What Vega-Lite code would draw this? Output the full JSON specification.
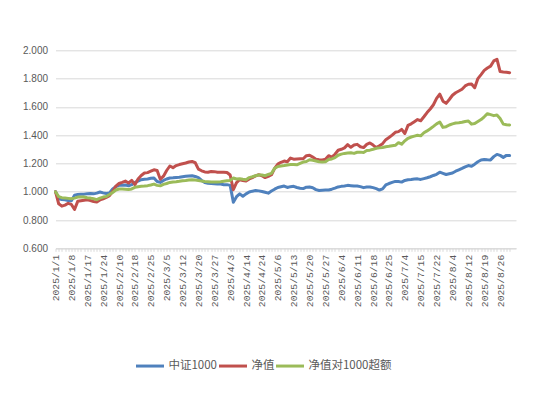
{
  "$schema": "https://vega.github.io/schema/vega-lite/v6.json",
  "width": 460.5,
  "height": 198,
  "autosize": {"type": "none"},
  "padding": {"left": 55.5, "top": 50.3, "right": 30, "bottom": 147},
  "background": "white",
  "config": {"view": {"stroke": null}},
  "data": {"values": [
    {"d":"2025/1/1","中证1000":1.000,"净值":1.000,"净值对1000超额":1.000},
    {"d":"2025/1/2","中证1000":0.950,"净值":0.915,"净值对1000超额":0.965},
    {"d":"2025/1/3","中证1000":0.945,"净值":0.898,"净值对1000超额":0.958},
    {"d":"2025/1/6","中证1000":0.943,"净值":0.905,"净值对1000超额":0.956},
    {"d":"2025/1/7","中证1000":0.938,"净值":0.918,"净值对1000超额":0.953},
    {"d":"2025/1/8","中证1000":0.936,"净值":0.910,"净值对1000超额":0.950},
    {"d":"2025/1/9","中证1000":0.975,"净值":0.875,"净值对1000超额":0.955},
    {"d":"2025/1/10","中证1000":0.980,"净值":0.932,"净值对1000超额":0.962},
    {"d":"2025/1/13","中证1000":0.982,"净值":0.936,"净值对1000超额":0.962},
    {"d":"2025/1/14","中证1000":0.983,"净值":0.940,"净值对1000超额":0.962},
    {"d":"2025/1/17","中证1000":0.986,"净值":0.943,"净值对1000超额":0.958},
    {"d":"2025/1/20","中证1000":0.988,"净值":0.938,"净值对1000超额":0.955},
    {"d":"2025/1/21","中证1000":0.985,"净值":0.931,"净值对1000超额":0.950},
    {"d":"2025/1/22","中证1000":0.990,"净值":0.927,"净值对1000超额":0.944},
    {"d":"2025/1/23","中证1000":0.998,"净值":0.942,"净值对1000超额":0.955},
    {"d":"2025/1/24","中证1000":0.992,"净值":0.950,"净值对1000超额":0.962},
    {"d":"2025/1/27","中证1000":0.988,"净值":0.960,"净值对1000超额":0.966},
    {"d":"2025/2/5","中证1000":0.992,"净值":0.972,"净值对1000超额":0.980},
    {"d":"2025/2/6","中证1000":1.020,"净值":1.002,"净值对1000超额":0.995},
    {"d":"2025/2/7","中证1000":1.036,"净值":1.040,"净值对1000超额":1.012},
    {"d":"2025/2/10","中证1000":1.045,"净值":1.058,"净值对1000超额":1.019},
    {"d":"2025/2/11","中证1000":1.046,"净值":1.066,"净值对1000超额":1.019},
    {"d":"2025/2/12","中证1000":1.048,"净值":1.075,"净值对1000超额":1.018},
    {"d":"2025/2/13","中证1000":1.042,"净值":1.062,"净值对1000超额":1.016},
    {"d":"2025/2/14","中证1000":1.050,"净值":1.080,"净值对1000超额":1.020},
    {"d":"2025/2/18","中证1000":1.066,"净值":1.050,"净值对1000超额":1.031},
    {"d":"2025/2/19","中证1000":1.075,"净值":1.090,"净值对1000超额":1.035},
    {"d":"2025/2/20","中证1000":1.085,"净值":1.115,"净值对1000超额":1.038},
    {"d":"2025/2/21","中证1000":1.088,"净值":1.132,"净值对1000超额":1.040},
    {"d":"2025/2/24","中证1000":1.090,"净值":1.135,"净值对1000超额":1.043},
    {"d":"2025/2/25","中证1000":1.095,"净值":1.145,"净值对1000超额":1.048},
    {"d":"2025/2/26","中证1000":1.097,"净值":1.155,"净值对1000超额":1.054},
    {"d":"2025/2/27","中证1000":1.072,"净值":1.150,"净值对1000超额":1.045},
    {"d":"2025/2/28","中证1000":1.066,"净值":1.088,"净值对1000超额":1.042},
    {"d":"2025/3/3","中证1000":1.080,"净值":1.110,"净值对1000超额":1.052},
    {"d":"2025/3/5","中证1000":1.090,"净值":1.150,"净值对1000超额":1.058},
    {"d":"2025/3/6","中证1000":1.097,"净值":1.182,"净值对1000超额":1.066},
    {"d":"2025/3/7","中证1000":1.098,"净值":1.170,"净值对1000超额":1.069},
    {"d":"2025/3/10","中证1000":1.100,"净值":1.185,"净值对1000超额":1.071},
    {"d":"2025/3/11","中证1000":1.102,"净值":1.192,"净值对1000超额":1.074},
    {"d":"2025/3/12","中证1000":1.106,"净值":1.198,"净值对1000超额":1.078},
    {"d":"2025/3/13","中证1000":1.109,"净值":1.203,"净值对1000超额":1.080},
    {"d":"2025/3/14","中证1000":1.111,"净值":1.210,"净值对1000超额":1.083},
    {"d":"2025/3/17","中证1000":1.113,"净值":1.214,"净值对1000超额":1.085},
    {"d":"2025/3/18","中证1000":1.108,"净值":1.205,"净值对1000超额":1.083},
    {"d":"2025/3/20","中证1000":1.100,"净值":1.160,"净值对1000超额":1.080},
    {"d":"2025/3/21","中证1000":1.080,"净值":1.148,"净值对1000超额":1.076},
    {"d":"2025/3/24","中证1000":1.065,"净值":1.140,"净值对1000超额":1.073},
    {"d":"2025/3/25","中证1000":1.060,"净值":1.138,"净值对1000超额":1.071},
    {"d":"2025/3/26","中证1000":1.058,"净值":1.143,"净值对1000超额":1.069},
    {"d":"2025/3/27","中证1000":1.057,"净值":1.142,"净值对1000超额":1.069},
    {"d":"2025/3/28","中证1000":1.055,"净值":1.138,"净值对1000超额":1.069},
    {"d":"2025/3/31","中证1000":1.054,"净值":1.137,"净值对1000超额":1.070},
    {"d":"2025/4/1","中证1000":1.050,"净值":1.137,"净值对1000超额":1.074},
    {"d":"2025/4/2","中证1000":1.050,"净值":1.136,"净值对1000超额":1.078},
    {"d":"2025/4/3","中证1000":1.045,"净值":1.118,"净值对1000超额":1.080},
    {"d":"2025/4/7","中证1000":0.926,"净值":1.014,"净值对1000超额":1.097},
    {"d":"2025/4/8","中证1000":0.965,"净值":1.065,"净值对1000超额":1.090},
    {"d":"2025/4/9","中证1000":0.985,"净值":1.085,"净值对1000超额":1.092},
    {"d":"2025/4/10","中证1000":0.968,"净值":1.080,"净值对1000超额":1.088},
    {"d":"2025/4/14","中证1000":0.985,"净值":1.075,"净值对1000超额":1.085},
    {"d":"2025/4/16","中证1000":0.998,"净值":1.090,"净值对1000超额":1.100},
    {"d":"2025/4/18","中证1000":1.004,"净值":1.100,"净值对1000超额":1.106},
    {"d":"2025/4/21","中证1000":1.008,"净值":1.112,"净值对1000超额":1.113},
    {"d":"2025/4/23","中证1000":1.006,"净值":1.120,"净值对1000超额":1.118},
    {"d":"2025/4/24","中证1000":1.002,"净值":1.113,"净值对1000超额":1.118},
    {"d":"2025/4/25","中证1000":0.996,"净值":1.100,"净值对1000超额":1.113},
    {"d":"2025/4/28","中证1000":0.990,"净值":1.108,"净值对1000超额":1.122},
    {"d":"2025/4/29","中证1000":1.005,"净值":1.120,"净值对1000超额":1.130},
    {"d":"2025/4/30","中证1000":1.018,"净值":1.165,"净值对1000超额":1.165},
    {"d":"2025/5/6","中证1000":1.030,"净值":1.195,"净值对1000超额":1.178},
    {"d":"2025/5/7","中证1000":1.035,"净值":1.208,"净值对1000超额":1.182},
    {"d":"2025/5/8","中证1000":1.040,"净值":1.217,"净值对1000超额":1.185},
    {"d":"2025/5/9","中证1000":1.030,"净值":1.212,"净值对1000超额":1.189},
    {"d":"2025/5/12","中证1000":1.036,"净值":1.238,"净值对1000超额":1.192},
    {"d":"2025/5/13","中证1000":1.038,"净值":1.230,"净值对1000超额":1.192},
    {"d":"2025/5/14","中证1000":1.030,"净值":1.232,"净值对1000超额":1.190},
    {"d":"2025/5/15","中证1000":1.025,"净值":1.233,"净值对1000超额":1.200},
    {"d":"2025/5/16","中证1000":1.022,"净值":1.233,"净值对1000超额":1.210},
    {"d":"2025/5/19","中证1000":1.032,"净值":1.255,"净值对1000超额":1.214},
    {"d":"2025/5/20","中证1000":1.033,"净值":1.258,"净值对1000超额":1.226},
    {"d":"2025/5/21","中证1000":1.028,"净值":1.245,"净值对1000超额":1.222},
    {"d":"2025/5/22","中证1000":1.015,"净值":1.230,"净值对1000超额":1.217},
    {"d":"2025/5/23","中证1000":1.009,"净值":1.226,"净值对1000超额":1.212},
    {"d":"2025/5/26","中证1000":1.011,"净值":1.225,"净值对1000超额":1.210},
    {"d":"2025/5/27","中证1000":1.012,"净值":1.229,"净值对1000超额":1.212},
    {"d":"2025/5/28","中证1000":1.012,"净值":1.255,"净值对1000超额":1.228},
    {"d":"2025/5/29","中证1000":1.018,"净值":1.245,"净值对1000超额":1.232},
    {"d":"2025/5/30","中证1000":1.025,"净值":1.265,"净值对1000超额":1.241},
    {"d":"2025/6/3","中证1000":1.034,"净值":1.293,"净值对1000超额":1.258},
    {"d":"2025/6/4","中证1000":1.038,"净值":1.300,"净值对1000超额":1.266},
    {"d":"2025/6/5","中证1000":1.041,"净值":1.310,"净值对1000超额":1.271},
    {"d":"2025/6/6","中证1000":1.045,"净值":1.333,"净值对1000超额":1.274},
    {"d":"2025/6/9","中证1000":1.043,"净值":1.314,"净值对1000超额":1.276},
    {"d":"2025/6/10","中证1000":1.040,"净值":1.330,"净值对1000超额":1.271},
    {"d":"2025/6/11","中证1000":1.040,"净值":1.335,"净值对1000超额":1.279},
    {"d":"2025/6/12","中证1000":1.036,"净值":1.318,"净值对1000超额":1.280},
    {"d":"2025/6/13","中证1000":1.029,"净值":1.312,"净值对1000超额":1.278},
    {"d":"2025/6/16","中证1000":1.033,"净值":1.335,"净值对1000超额":1.292},
    {"d":"2025/6/17","中证1000":1.034,"净值":1.345,"净值对1000超额":1.294},
    {"d":"2025/6/18","中证1000":1.029,"净值":1.330,"净值对1000超额":1.300},
    {"d":"2025/6/19","中证1000":1.022,"净值":1.312,"净值对1000超额":1.307},
    {"d":"2025/6/20","中证1000":1.012,"净值":1.325,"净值对1000超额":1.310},
    {"d":"2025/6/23","中证1000":1.020,"净值":1.340,"净值对1000超额":1.313},
    {"d":"2025/6/24","中证1000":1.048,"净值":1.368,"净值对1000超额":1.318},
    {"d":"2025/6/25","中证1000":1.058,"净值":1.383,"净值对1000超额":1.321},
    {"d":"2025/6/27","中证1000":1.066,"净值":1.400,"净值对1000超额":1.325},
    {"d":"2025/6/30","中证1000":1.073,"净值":1.420,"净值对1000超额":1.328},
    {"d":"2025/7/1","中证1000":1.072,"净值":1.425,"净值对1000超额":1.347},
    {"d":"2025/7/3","中证1000":1.068,"净值":1.441,"净值对1000超额":1.336},
    {"d":"2025/7/4","中证1000":1.080,"净值":1.412,"净值对1000超额":1.360},
    {"d":"2025/7/8","中证1000":1.085,"净值":1.469,"净值对1000超额":1.378},
    {"d":"2025/7/9","中证1000":1.087,"净值":1.480,"净值对1000超额":1.387},
    {"d":"2025/7/10","中证1000":1.090,"净值":1.495,"净值对1000超额":1.393},
    {"d":"2025/7/14","中证1000":1.091,"净值":1.510,"净值对1000超额":1.399},
    {"d":"2025/7/15","中证1000":1.087,"净值":1.502,"净值对1000超额":1.395},
    {"d":"2025/7/16","中证1000":1.093,"净值":1.530,"净值对1000超额":1.417},
    {"d":"2025/7/17","中证1000":1.099,"净值":1.560,"净值对1000超额":1.430},
    {"d":"2025/7/18","中证1000":1.106,"净值":1.585,"净值对1000超额":1.445},
    {"d":"2025/7/21","中证1000":1.115,"净值":1.615,"净值对1000超额":1.462},
    {"d":"2025/7/22","中证1000":1.123,"净值":1.660,"净值对1000超额":1.480},
    {"d":"2025/7/24","中证1000":1.138,"净值":1.690,"净值对1000超额":1.493},
    {"d":"2025/7/28","中证1000":1.130,"净值":1.640,"净值对1000超额":1.455},
    {"d":"2025/7/30","中证1000":1.122,"净值":1.625,"净值对1000超额":1.460},
    {"d":"2025/8/1","中证1000":1.127,"净值":1.652,"净值对1000超额":1.472},
    {"d":"2025/8/4","中证1000":1.132,"净值":1.682,"净值对1000超额":1.480},
    {"d":"2025/8/5","中证1000":1.145,"净值":1.700,"净值对1000超额":1.486},
    {"d":"2025/8/6","中证1000":1.155,"净值":1.712,"净值对1000超额":1.488},
    {"d":"2025/8/7","中证1000":1.165,"净值":1.725,"净值对1000超额":1.491},
    {"d":"2025/8/8","中证1000":1.176,"净值":1.748,"净值对1000超额":1.497},
    {"d":"2025/8/12","中证1000":1.185,"净值":1.760,"净值对1000超额":1.500},
    {"d":"2025/8/13","中证1000":1.180,"净值":1.762,"净值对1000超额":1.478},
    {"d":"2025/8/14","中证1000":1.195,"净值":1.735,"净值对1000超额":1.482},
    {"d":"2025/8/15","中证1000":1.212,"净值":1.800,"净值对1000超额":1.496},
    {"d":"2025/8/18","中证1000":1.224,"净值":1.828,"净值对1000超额":1.510},
    {"d":"2025/8/19","中证1000":1.228,"净值":1.858,"净值对1000超额":1.530},
    {"d":"2025/8/20","中证1000":1.226,"净值":1.875,"净值对1000超额":1.552},
    {"d":"2025/8/21","中证1000":1.225,"净值":1.888,"净值对1000超额":1.545},
    {"d":"2025/8/22","中证1000":1.248,"净值":1.925,"净值对1000超额":1.538},
    {"d":"2025/8/25","中证1000":1.264,"净值":1.937,"净值对1000超额":1.542},
    {"d":"2025/8/26","中证1000":1.257,"净值":1.850,"净值对1000超额":1.517},
    {"d":"2025/8/27","中证1000":1.243,"净值":1.847,"净值对1000超额":1.478},
    {"d":"2025/8/28","中证1000":1.257,"净值":1.845,"净值对1000超额":1.473},
    {"d":"2025/8/29","中证1000":1.257,"净值":1.842,"净值对1000超额":1.472}
  ]},
  "transform": [
    {"fold": ["中证1000", "净值", "净值对1000超额"], "as": ["series", "value"]}
  ],
  "mark": {"type": "line", "strokeWidth": 3, "strokeJoin": "round", "strokeCap": "round"},
  "encoding": {
    "x": {
      "field": "d",
      "type": "ordinal",
      "sort": null,
      "scale": {"type": "point", "padding": 2.5, "align": 0},
      "axis": {
        "title": null,
        "labelAngle": -90,
        "labelExpr": "indexof(['2025/1/1','2025/1/8','2025/1/17','2025/1/24','2025/2/10','2025/2/18','2025/2/25','2025/3/5','2025/3/12','2025/3/20','2025/3/27','2025/4/3','2025/4/14','2025/4/24','2025/5/6','2025/5/13','2025/5/20','2025/5/27','2025/6/4','2025/6/11','2025/6/18','2025/6/25','2025/7/4','2025/7/15','2025/7/22','2025/8/4','2025/8/12','2025/8/19','2025/8/26'], datum.value) >= 0 ? datum.value : ''",
        "labelOverlap": false,
        "labelFlush": false,
        "labelFont": "Liberation Mono",
        "labelFontSize": 9.7,
        "labelColor": "#595959",
        "labelPadding": 3,
        "tickSize": 3,
        "tickColor": "#d9d9d9",
        "domainColor": "#d9d9d9",
        "grid": false
      }
    },
    "y": {
      "field": "value",
      "type": "quantitative",
      "scale": {"domain": [0.6, 2.0], "nice": false, "zero": false},
      "axis": {
        "title": null,
        "values": [0.6, 0.8, 1.0, 1.2, 1.4, 1.6, 1.8, 2.0],
        "format": ".3f",
        "ticks": false,
        "domain": false,
        "grid": true,
        "gridColor": "#d9d9d9",
        "labelFont": "Liberation Sans",
        "labelFontSize": 10,
        "labelColor": "#595959",
        "labelPadding": 8
      }
    },
    "color": {
      "field": "series",
      "type": "nominal",
      "sort": null,
      "scale": {"domain": ["中证1000", "净值", "净值对1000超额"], "range": ["#4F81BD", "#C0504D", "#9BBB59"]},
      "legend": {
        "title": null,
        "orient": "none",
        "legendX": 79,
        "legendY": 300,
        "direction": "horizontal",
        "symbolType": "stroke",
        "symbolSize": 784,
        "symbolStrokeWidth": 3,
        "labelFont": "Noto Sans CJK SC",
        "labelFontSize": 11.5,
        "labelColor": "#595959",
        "labelOffset": 3,
        "columnPadding": -5
      }
    }
  }
}
